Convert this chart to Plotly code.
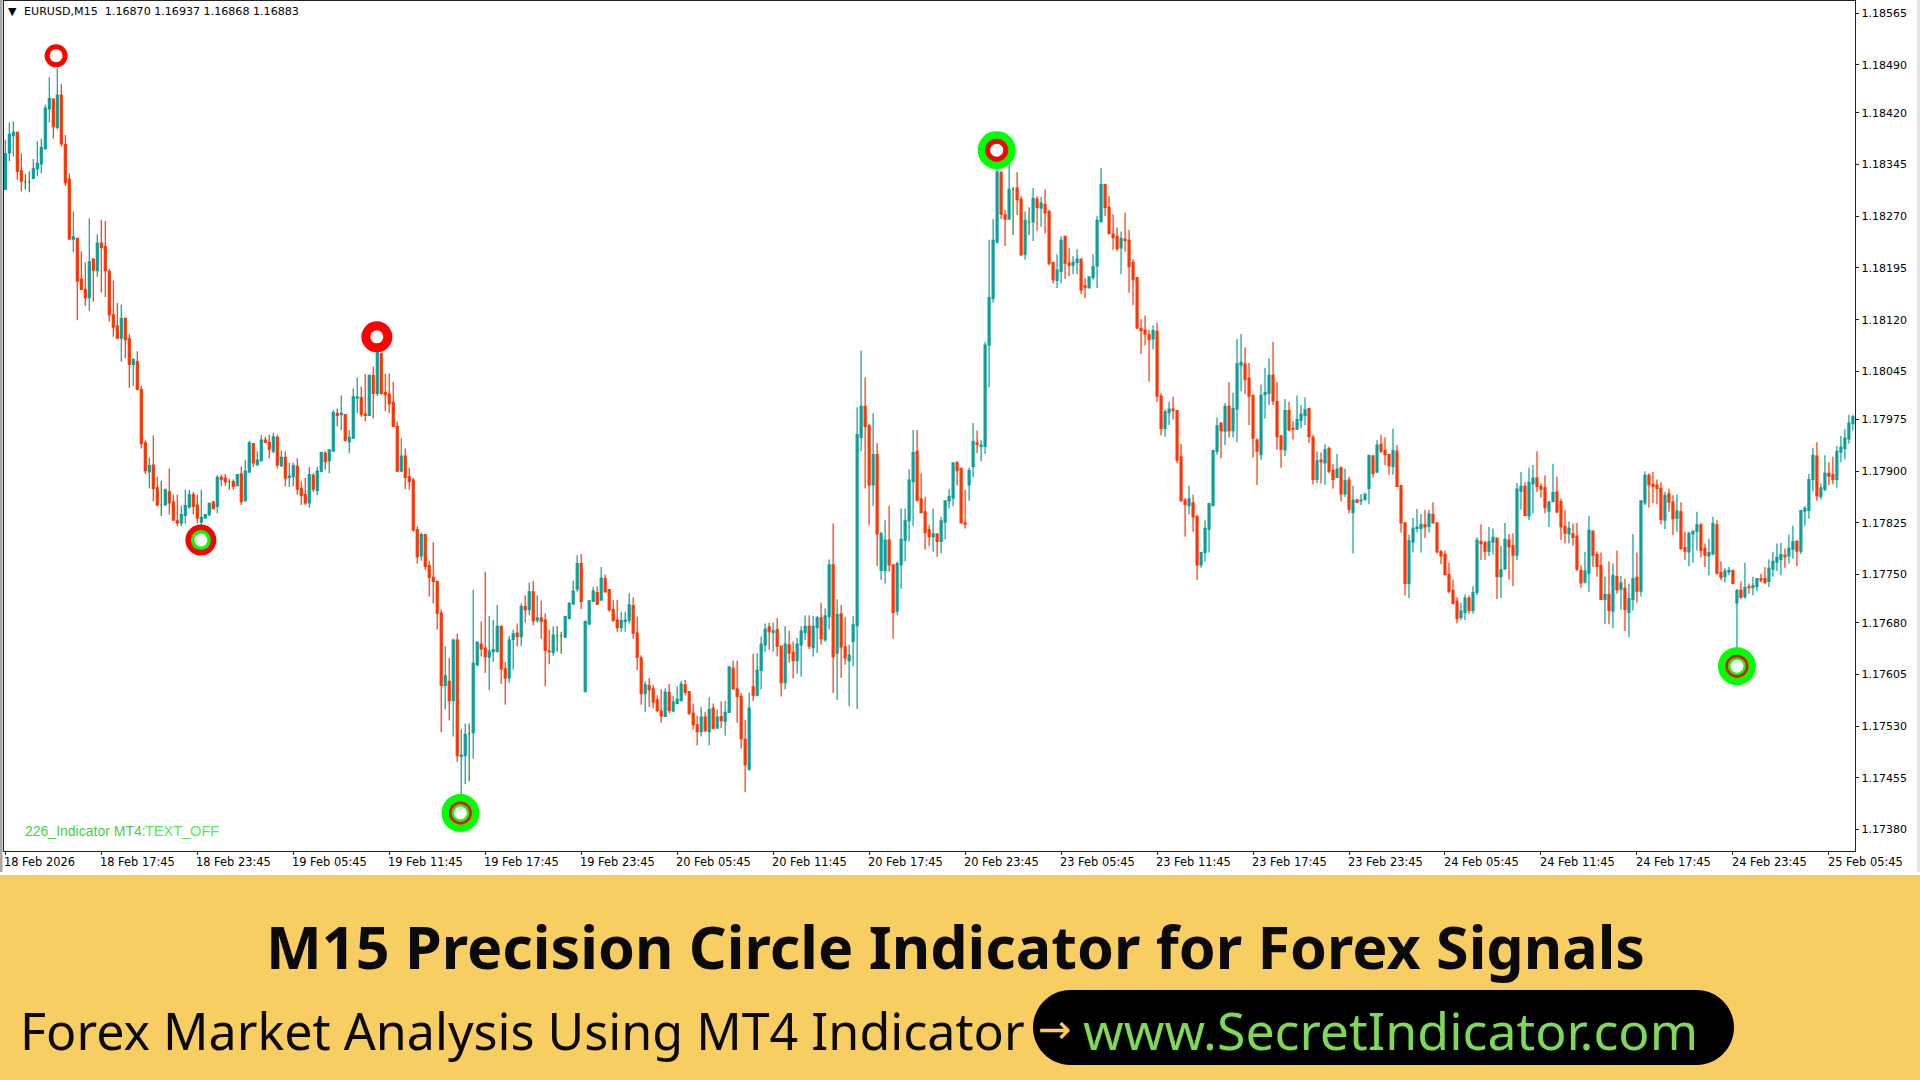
import plotly.graph_objects as go

# Candles in points (1.17885 is written 17885), one M15 bar per entry
opens = [
    18309,18362,18387,18392,18336,18320,18320,18325,18339,18346,
    18368,18426,18440,18399,18446,18374,18324,18237,18238,18179,
    18164,18152,18208,18191,18231,18226,18190,18127,18111,18093,
    18122,18092,18055,18059,18019,17941,17899,17909,17876,17851,
    17851,17870,17855,17828,17825,17836,17848,17866,17851,17826,
    17832,17837,17855,17849,17891,17890,17885,17885,17879,17896,
    17857,17899,17940,17909,17915,17945,17942,17929,17949,17908,
    17920,17891,17892,17907,17875,17866,17854,17894,17872,17900,
    17926,17915,17929,17984,17982,17982,17943,17948,18006,18007,
    17983,17981,18039,18013,18071,18014,18012,18000,17965,17900,
    17922,17892,17887,17815,17777,17808,17763,17746,17740,17694,
    17589,17595,17567,17655,17486,17487,17519,17520,17619,17649,
    17643,17630,17638,17638,17675,17613,17600,17656,17665,17660,
    17704,17699,17725,17684,17687,17684,17639,17637,17661,17661,
    17659,17686,17707,17729,17766,17580,17678,17711,17724,17713,
    17744,17728,17699,17684,17673,17682,17684,17705,17665,17629,
    17577,17589,17584,17568,17552,17544,17579,17552,17563,17567,
    17590,17580,17549,17532,17522,17543,17522,17556,17527,17544,
    17537,17550,17614,17584,17573,17511,17467,17587,17575,17611,
    17648,17674,17666,17670,17646,17593,17648,17637,17625,17648,
    17666,17675,17644,17673,17687,17655,17689,17764,17636,17693,
    17645,17625,17653,17676,17949,17994,17966,17880,17924,17756,
    17756,17800,17764,17697,17764,17800,17828,17885,17929,17860,
    17841,17815,17805,17809,17798,17826,17857,17861,17912,17904,
    17825,17880,17907,17941,17936,17936,18083,18151,18233,18334,
    18272,18266,18309,18311,18295,18215,18262,18262,18295,18282,
    18287,18277,18203,18177,18190,18241,18202,18199,18203,18208,
    18169,18166,18181,18198,18262,18316,18283,18244,18241,18224,
    18237,18235,18203,18181,18107,18105,18098,18092,18103,18009,
    17962,17985,17990,17988,17921,17858,17850,17854,17834,17764,
    17782,17816,17850,17929,17970,17958,17994,17959,17990,18054,
    18056,18035,18010,17945,17924,18011,18013,18039,18001,17951,
    17931,17988,17962,17961,17974,17981,17991,17949,17888,17916,
    17912,17933,17901,17891,17905,17867,17887,17840,17858,17857,
    17859,17875,17922,17899,17939,17930,17924,17907,17929,17879,
    17825,17737,17797,17817,17817,17822,17820,17837,17825,17783,
    17779,17750,17727,17711,17688,17695,17716,17698,17724,17798,
    17796,17784,17797,17803,17747,17758,17800,17792,17778,17871,
    17878,17835,17882,17890,17878,17876,17842,17856,17870,17856,
    17820,17809,17809,17806,17756,17739,17752,17813,17779,17763,
    17714,17721,17697,17747,17729,17730,17695,17714,17746,17726,
    17854,17894,17881,17880,17875,17829,17867,17855,17832,17841,
    17789,17783,17809,17813,17822,17788,17777,17780,17822,17753,
    17747,17754,17756,17709,17727,17718,17732,17731,17733,17744,
    17744,17740,17758,17768,17772,17778,17777,17787,17798,17784,
    17842,17843,17888,17922,17863,17874,17897,17895,17888,17928,
    17933,17947,17969,
]
highs = [
    18381,18406,18408,18393,18361,18331,18335,18353,18379,18383,
    18432,18472,18441,18485,18462,18388,18332,18277,18238,18219,
    18203,18267,18209,18244,18265,18263,18194,18177,18144,18142,
    18123,18099,18064,18074,18024,17945,17920,17952,17892,17886,
    17875,17904,17866,17866,17850,17873,17873,17870,17866,17873,
    17837,17855,17857,17894,17895,17896,17889,17888,17896,17907,
    17916,17944,17940,17929,17953,17950,17953,17956,17953,17930,
    17929,17912,17912,17919,17885,17890,17906,17897,17906,17927,
    17929,17932,17989,17991,18010,17983,17960,18020,18036,18023,
    18041,18040,18052,18076,18071,18041,18042,18030,17972,17948,
    17933,17905,17890,17820,17811,17809,17770,17797,17741,17699,
    17646,17629,17657,17664,17526,17534,17534,17728,17652,17682,
    17754,17690,17684,17706,17676,17623,17661,17670,17679,17708,
    17720,17738,17741,17720,17712,17694,17670,17675,17675,17667,
    17690,17710,17741,17778,17780,17682,17713,17732,17733,17761,
    17750,17728,17713,17713,17696,17696,17723,17717,17689,17633,
    17595,17600,17590,17575,17583,17585,17591,17574,17588,17596,
    17597,17580,17563,17545,17558,17551,17572,17563,17554,17566,
    17567,17616,17625,17625,17578,17539,17579,17635,17636,17660,
    17679,17680,17680,17687,17646,17675,17668,17653,17658,17675,
    17691,17691,17690,17690,17709,17701,17772,17824,17714,17706,
    17688,17648,17690,17993,18075,18036,17969,17984,17941,17812,
    17829,17850,17764,17769,17846,17846,17903,17960,17960,17897,
    17863,17822,17846,17809,17834,17858,17874,17913,17915,17905,
    17873,17905,17970,17959,17945,18088,18236,18266,18347,18334,
    18279,18347,18312,18334,18299,18277,18283,18311,18299,18298,
    18309,18280,18203,18215,18241,18241,18224,18212,18222,18208,
    18180,18183,18215,18270,18340,18317,18299,18273,18254,18248,
    18275,18250,18208,18181,18121,18126,18105,18112,18116,18013,
    17990,18001,18008,17989,17940,17861,17879,17866,17837,17783,
    17829,17854,17931,17978,17971,17999,18029,18014,18092,18099,
    18080,18057,18011,17948,18026,18050,18064,18088,18030,17953,
    18005,18001,17972,18010,17996,18007,17991,17953,17929,17927,
    17939,17936,17911,17925,17907,17904,17892,17879,17860,17867,
    17869,17924,17924,17945,17953,17949,17925,17962,17938,17879,
    17825,17808,17832,17845,17838,17844,17844,17855,17825,17786,
    17785,17767,17743,17717,17709,17721,17720,17733,17804,17823,
    17799,17819,17817,17803,17792,17825,17809,17810,17883,17899,
    17884,17905,17909,17929,17882,17894,17857,17911,17892,17860,
    17844,17827,17824,17825,17763,17783,17835,17813,17784,17782,
    17747,17769,17766,17785,17748,17744,17737,17809,17782,17858,
    17900,17897,17899,17888,17884,17870,17875,17865,17866,17855,
    17812,17812,17814,17841,17825,17795,17802,17834,17829,17769,
    17759,17761,17756,17729,17740,17767,17737,17747,17745,17751,
    17761,17772,17783,17795,17796,17788,17808,17821,17800,17844,
    17849,17896,17934,17942,17882,17923,17913,17921,17937,17951,
    17961,17982,17982,
]
lows = [
    18308,18350,18357,18323,18306,18309,18305,18324,18328,18332,
    18368,18406,18383,18396,18371,18314,18236,18218,18119,18163,
    18140,18133,18146,18182,18159,18153,18117,18095,18093,18059,
    18064,18021,18024,18017,17933,17896,17875,17856,17849,17835,
    17850,17837,17828,17820,17820,17824,17846,17837,17824,17816,
    17832,17835,17844,17839,17878,17879,17873,17873,17878,17851,
    17857,17897,17906,17909,17914,17941,17919,17926,17904,17906,
    17878,17877,17878,17866,17851,17851,17847,17870,17865,17898,
    17902,17897,17929,17965,17960,17943,17926,17948,17984,17979,
    17972,17981,17977,18009,18011,17987,17984,17964,17900,17900,
    17874,17873,17812,17766,17770,17757,17718,17708,17670,17521,
    17554,17538,17515,17478,17421,17446,17450,17483,17617,17631,
    17607,17582,17623,17638,17591,17561,17593,17612,17646,17646,
    17680,17691,17676,17680,17657,17588,17620,17632,17638,17635,
    17658,17685,17707,17725,17700,17580,17677,17710,17706,17712,
    17724,17696,17682,17667,17667,17667,17679,17657,17611,17561,
    17551,17558,17556,17550,17535,17544,17549,17550,17562,17567,
    17575,17546,17525,17502,17515,17523,17502,17525,17527,17527,
    17516,17549,17583,17535,17497,17434,17467,17567,17573,17583,
    17638,17641,17638,17631,17573,17583,17622,17599,17606,17602,
    17655,17642,17631,17636,17648,17653,17670,17578,17568,17600,
    17619,17559,17617,17555,17929,17875,17822,17850,17762,17742,
    17737,17754,17657,17691,17729,17769,17798,17820,17856,17839,
    17786,17791,17783,17776,17781,17801,17846,17849,17879,17824,
    17817,17857,17891,17926,17914,17925,18022,18145,18230,18266,
    18227,18266,18243,18272,18213,18207,18243,18234,18249,18255,
    18245,18199,18173,18166,18173,18179,18183,18186,18186,18157,
    18151,18166,18178,18166,18261,18270,18244,18221,18220,18186,
    18219,18159,18141,18106,18070,18083,18030,18077,18000,17952,
    17950,17967,17975,17912,17856,17805,17837,17812,17742,17760,
    17769,17782,17849,17924,17919,17938,17949,17949,17942,18016,
    18012,17967,17920,17880,17916,17976,17996,17996,17931,17905,
    17922,17958,17946,17960,17962,17967,17941,17881,17883,17882,
    17880,17897,17875,17890,17856,17863,17839,17781,17854,17851,
    17857,17852,17891,17897,17926,17909,17895,17895,17877,17811,
    17720,17716,17782,17811,17782,17803,17811,17825,17781,17765,
    17749,17723,17707,17679,17684,17684,17693,17693,17720,17771,
    17771,17777,17779,17714,17716,17757,17743,17733,17771,17844,
    17835,17829,17839,17870,17862,17839,17819,17855,17839,17800,
    17795,17795,17792,17755,17731,17737,17725,17761,17747,17713,
    17678,17678,17672,17722,17699,17668,17659,17698,17709,17718,
    17851,17847,17854,17852,17823,17816,17841,17807,17812,17786,
    17771,17762,17767,17785,17775,17761,17749,17778,17750,17742,
    17739,17749,17736,17631,17715,17715,17722,17720,17726,17739,
    17737,17732,17747,17755,17749,17760,17766,17773,17762,17780,
    17821,17831,17871,17857,17859,17871,17880,17881,17876,17913,
    17917,17940,17959,
]
closes = [
    18361,18389,18392,18335,18321,18320,18320,18339,18347,18370,
    18427,18441,18400,18446,18375,18319,18237,18240,18176,18164,
    18152,18204,18192,18231,18225,18191,18127,18109,18093,18122,
    18091,18055,18062,18019,17940,17901,17908,17875,17851,17851,
    17873,17854,17829,17825,17837,17850,17866,17849,17832,17833,
    17837,17853,17846,17891,17888,17885,17885,17878,17895,17856,
    17900,17941,17912,17916,17945,17942,17932,17950,17909,17920,
    17890,17893,17908,17874,17865,17854,17895,17874,17900,17927,
    17914,17931,17985,17981,17984,17945,17949,18008,18008,17983,
    17981,18039,18013,18075,18013,18011,17998,17965,17900,17922,
    17891,17885,17815,17776,17808,17762,17746,17740,17694,17589,
    17603,17567,17655,17487,17488,17518,17519,17621,17652,17642,
    17631,17639,17641,17675,17613,17600,17655,17664,17660,17704,
    17699,17725,17683,17687,17682,17640,17638,17662,17661,17661,
    17689,17708,17726,17766,17711,17682,17712,17726,17707,17745,
    17725,17699,17683,17673,17683,17684,17706,17665,17630,17577,
    17590,17583,17565,17553,17545,17579,17553,17565,17569,17591,
    17579,17549,17532,17522,17543,17523,17554,17527,17543,17538,
    17550,17616,17584,17573,17512,17474,17556,17575,17611,17649,
    17671,17667,17668,17646,17593,17649,17636,17625,17649,17668,
    17675,17646,17675,17687,17657,17690,17764,17631,17692,17645,
    17629,17633,17677,17953,17994,17965,17880,17924,17809,17809,
    17800,17764,17695,17766,17801,17828,17887,17927,17858,17840,
    17811,17805,17809,17798,17828,17857,17863,17912,17901,17825,
    17823,17901,17943,17939,17938,18083,18152,18235,18334,18273,
    18266,18309,18309,18294,18214,18264,18262,18296,18283,18289,
    18275,18202,18178,18192,18235,18202,18199,18203,18208,18163,
    18167,18182,18197,18264,18316,18283,18245,18239,18223,18238,
    18235,18197,18178,18108,18104,18099,18091,18104,18009,17962,
    17986,17990,17988,17916,17857,17852,17860,17834,17764,17782,
    17817,17853,17930,17966,17959,17994,17959,17991,18056,18058,
    18033,18009,17948,17929,18010,18014,18039,18002,17950,17932,
    17988,17960,17961,17975,17983,17989,17950,17888,17915,17914,
    17931,17900,17888,17903,17867,17886,17845,17858,17855,17858,
    17866,17923,17897,17938,17929,17924,17908,17930,17878,17825,
    17737,17799,17817,17819,17823,17819,17838,17825,17783,17777,
    17750,17726,17708,17686,17697,17716,17698,17724,17800,17795,
    17784,17798,17804,17747,17757,17801,17790,17778,17874,17878,
    17836,17884,17890,17878,17874,17847,17855,17869,17841,17819,
    17810,17817,17804,17758,17738,17755,17814,17778,17762,17714,
    17721,17698,17749,17728,17738,17699,17715,17744,17726,17857,
    17894,17880,17878,17875,17830,17865,17855,17831,17842,17788,
    17784,17810,17813,17822,17785,17778,17782,17824,17752,17746,
    17755,17756,17737,17727,17717,17731,17731,17734,17744,17742,
    17738,17759,17769,17775,17779,17776,17788,17798,17784,17843,
    17846,17888,17923,17864,17876,17897,17893,17888,17929,17935,
    17948,17970,17979,
]

# Circle signals: bar position and price in points
signal_bars = [12.7, 92.9, 48.9, 113.8, 247.9, 433.0]
signal_prices = [18503, 18095, 17800, 17404, 18366, 17617]

price_ticks = [
    "1.18565", "1.18490", "1.18420", "1.18345", "1.18270", "1.18195",
    "1.18120", "1.18045", "1.17975", "1.17900", "1.17825", "1.17750",
    "1.17680", "1.17605", "1.17530", "1.17455", "1.17380",
]
time_ticks = [
    "18 Feb 2026", "18 Feb 17:45", "18 Feb 23:45", "19 Feb 05:45", "19 Feb 11:45",
    "19 Feb 17:45", "19 Feb 23:45", "20 Feb 05:45", "20 Feb 11:45", "20 Feb 17:45",
    "20 Feb 23:45", "23 Feb 05:45", "23 Feb 11:45", "23 Feb 17:45", "23 Feb 23:45",
    "24 Feb 05:45", "24 Feb 11:45", "24 Feb 17:45", "24 Feb 23:45", "25 Feb 05:45",
]
BARS_PER_TICK = 24

TEAL = "#0A9E9B"
RED = "#FF3300"
DOJI = "#1E8B1E"
LIME = "#00FF00"
BANNER = "#F8CE62"
W, H = 1920, 1080


def px(x):
    return x / W


def py(y):
    return 1 - y / H


def to_price(values):
    return [1 + v / 100000 for v in values]


def candle_trace(idx, up_color, down_color):
    return go.Candlestick(
        x=idx,
        open=to_price([opens[i] for i in idx]),
        high=to_price([highs[i] for i in idx]),
        low=to_price([lows[i] for i in idx]),
        close=to_price([closes[i] for i in idx]),
        increasing=dict(line=dict(color=up_color, width=1.2), fillcolor=up_color),
        decreasing=dict(line=dict(color=down_color, width=1.2), fillcolor=down_color),
        whiskerwidth=0,
        showlegend=False,
    )


def label(x, y, text, size, color="#000000", family="DejaVu Sans", anchor="left"):
    return dict(
        x=px(x), y=py(y), xref="paper", yref="paper", text=text, showarrow=False,
        xanchor=anchor, yanchor="middle",
        font=dict(family=family, size=size, color=color),
    )


def pill(x0, y0, x1, y1):
    # rounded ends, paper coordinates
    r = (y1 - y0) / 2
    k = r * 0.45
    pts = [
        "M", (x0 + r, y0), "L", (x1 - r, y0),
        "C", (x1 - k, y0), (x1, y0 + k), (x1, y0 + r),
        "C", (x1, y1 - k), (x1 - k, y1), (x1 - r, y1),
        "L", (x0 + r, y1),
        "C", (x0 + k, y1), (x0, y1 - k), (x0, y0 + r),
        "C", (x0, y0 + k), (x0 + k, y0), (x0 + r, y0), "Z",
    ]
    path = ""
    for p in pts:
        path += p if isinstance(p, str) else " %.5f,%.5f " % (px(p[0]), py(p[1]))
    return path


fig = go.Figure()

# rings first, the candles sit on top of them
ring_layers = [
    (LIME, 38, [3, 4, 5]),
    ("#FF0000", 31, [1, 2]),
    ("#FF0000", 23, [0, 3, 4, 5]),
    (LIME, 20, [2]),
    (LIME, 18, [3, 5]),
    ("#FFFFFF", 13, [0, 1, 2, 3, 4, 5]),
]
for color, size, which in ring_layers:
    fig.add_trace(go.Scatter(
        x=[signal_bars[i] for i in which],
        y=to_price([signal_prices[i] for i in which]),
        mode="markers",
        marker=dict(color=color, size=size, line=dict(width=0)),
        showlegend=False,
    ))

all_bars = list(range(len(opens)))
doji_bars = [i for i in all_bars if opens[i] == closes[i]]
other_bars = [i for i in all_bars if opens[i] != closes[i]]
fig.add_trace(candle_trace(other_bars, TEAL, RED))
fig.add_trace(candle_trace(doji_bars, DOJI, DOJI))

annotations = [
    label(6, 11, "▼", 11),
    label(22, 12, "EURUSD,M15  1.16870 1.16937 1.16868 1.16883", 11.1),
    label(23, 831, "226_Indicator MT4:", 14, "#3FD43F", "Liberation Sans"),
    label(143, 831, "TEXT_OFF", 14.5, "#55E855", "Liberation Sans"),
    label(955, 946, "<b>M15 Precision Circle Indicator for Forex Signals</b>", 59.2, "#0A0A0A",
          "Noto Sans", "center"),
    label(18, 1030, "Forex Market Analysis Using MT4 Indicator", 50.2, "#0A0A0A", "Noto Sans"),
    label(1081, 1030, "www.SecretIndicator.com", 51.8, "#7ED957", "Noto Sans"),
    label(1036, 1029, "→", 40, BANNER, "DejaVu Sans"),
]
# time labels start at their tick, not centred under it
for n, text in enumerate(time_ticks):
    annotations.append(dict(
        x=n * BARS_PER_TICK, xshift=-3, y=py(862), xref="x", yref="paper", text=text, showarrow=False,
        xanchor="left", yanchor="middle", font=dict(family="DejaVu Sans", size=11.4, color="#000000"),
    ))

fig.update_layout(
    width=W,
    height=H,
    margin=dict(l=0, r=0, t=0, b=0),
    paper_bgcolor="#FFFFFF",
    plot_bgcolor="#FFFFFF",
    showlegend=False,
    annotations=annotations,
    shapes=[
        # window frame either side of the chart
        dict(type="rect", xref="paper", yref="paper", x0=0, x1=px(2.5), y0=py(872), y1=1,
             fillcolor="#A8A8A8", line=dict(width=0)),
        dict(type="rect", xref="paper", yref="paper", x0=px(1917), x1=1, y0=py(872), y1=1,
             fillcolor="#E4E4E4", line=dict(width=0)),
        dict(type="rect", xref="paper", yref="paper", x0=0, x1=1, y0=0, y1=py(875),
             fillcolor=BANNER, line=dict(width=0)),
        dict(type="path", xref="paper", yref="paper", path=pill(1033, 990, 1734, 1065),
             fillcolor="#000000", line=dict(width=0)),
    ],
    xaxis=dict(
        domain=[px(4), px(1855.3)],
        range=[-0.33, 462.6],
        rangeslider=dict(visible=False),
        showgrid=False,
        zeroline=False,
        showline=True,
        mirror=True,
        linecolor="#222222",
        linewidth=1,
        ticks="outside",
        ticklen=3,
        tickcolor="#222222",
        tickvals=[n * BARS_PER_TICK for n in range(len(time_ticks))],
        showticklabels=False,
    ),
    yaxis=dict(
        domain=[py(850.7), py(1)],
        range=[1.173492, 1.185825],
        side="right",
        showgrid=False,
        zeroline=False,
        showline=True,
        mirror=True,
        linecolor="#222222",
        linewidth=1,
        ticks="outside",
        ticklen=3,
        tickcolor="#222222",
        tickvals=[float(t) for t in price_ticks],
        ticktext=price_ticks,
        tickfont=dict(family="DejaVu Sans", size=11, color="#000000"),
    ),
)

# the page's default body margin would push the fixed-size figure off by 8px
fig.write_html(
    "out.html",
    config={"displayModeBar": False},
    post_script="document.body.style.margin='0';",
)
